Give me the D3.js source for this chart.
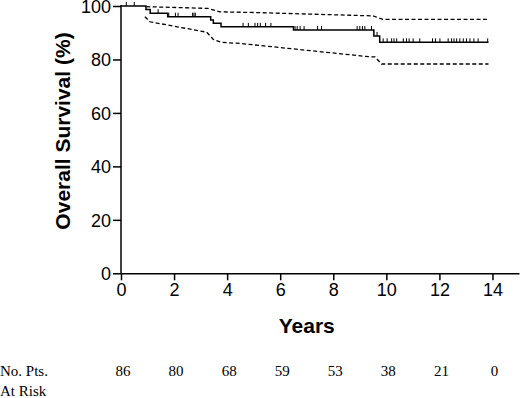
<!DOCTYPE html>
<html>
<head>
<meta charset="utf-8">
<script src="https://cdn.jsdelivr.net/npm/d3@7"></script>
<style>
  body { margin: 0; background: #fff; }
  svg { display: block; }
  .tick text { font-family: "Liberation Sans", Arial, sans-serif; font-size: 18px; fill: #000; }
  .axisTitle { font-family: "Liberation Sans", Arial, sans-serif; font-size: 21px; font-weight: bold; }
  .risk { font-family: "Liberation Serif", "Times New Roman", serif; font-size: 15px; }
</style>
</head>
<body>
<div id="plot"></div>
<script>
var svgWidth = 520;
var svgHeight = 398;

// Kaplan-Meier step points [year, survival %]
var kmSteps = [[0, 100], [0.94, 98.7], [1.1, 97.3], [1.76, 96.0], [3.38, 94.8], [3.48, 93.5],
  [3.77, 92.2], [6.5, 91.0], [9.53, 88.8], [9.75, 86.4]];
var kmEnd = 13.85;

// censor marks [year, survival %]
var censored = [[0.2, 100], [0.5, 100], [1.4, 97.3], [1.8, 96.0], [2.05, 96.0], [2.15, 96.0],
  [2.7, 96.0], [2.75, 96.0], [2.8, 96.0],
  [4.6, 92.2], [4.8, 92.2], [5.05, 92.2], [5.15, 92.2], [5.25, 92.2], [5.45, 92.2], [5.65, 92.2],
  [6.56, 91.0], [6.64, 91.0], [6.75, 91.0], [6.9, 91.0], [7.41, 91.0], [7.56, 91.0],
  [8.9, 91.0], [9.0, 91.0], [9.1, 91.0], [9.19, 91.0], [9.44, 91.0], [9.65, 88.8],
  [9.88, 86.4], [10.03, 86.4], [10.2, 86.4], [10.29, 86.4], [10.39, 86.4], [10.64, 86.4],
  [10.76, 86.4], [10.86, 86.4], [11.01, 86.4], [11.26, 86.4], [11.74, 86.4], [11.85, 86.4],
  [12.02, 86.4], [12.33, 86.4], [12.46, 86.4], [12.55, 86.4], [12.65, 86.4], [12.77, 86.4],
  [12.9, 86.4], [13.02, 86.4], [13.15, 86.4], [13.3, 86.4], [13.46, 86.4], [13.82, 86.4]];

// 95% confidence bands
var upperCI = [[0.95, 99.75], [3.28, 99.1], [3.73, 97.8], [4.86, 97.6], [9.5, 96.3], [9.87, 95.0], [13.85, 95.0]];
var lowerCI = [[0.9, 96.0], [1.09, 94.1], [3.23, 90.2], [3.48, 87.5], [3.79, 86.4], [4.48, 86.0],
  [9.38, 81.0], [9.57, 81.0], [9.82, 78.3], [13.85, 78.3]];

var xTicks = [0, 2, 4, 6, 8, 10, 12, 14];
var yTicks = [0, 20, 40, 60, 80, 100];
var atRisk = [86, 80, 68, 59, 53, 38, 21, 0];

var svg = d3.select("#plot")
  .append("svg")
  .attr("width", svgWidth)
  .attr("height", svgHeight);

var x = d3.scaleLinear().domain([0, 15]).range([121, 519]);
var y = d3.scaleLinear().domain([0, 100]).range([273.3, 6]);

var bottomAxis = d3.axisBottom(x).tickValues(xTicks).tickSize(7).tickPadding(3).tickSizeOuter(0);
var leftAxis = d3.axisLeft(y).tickValues(yTicks).tickSize(8).tickPadding(2).tickSizeOuter(0);

var gx = svg.append("g")
  .attr("transform", `translate(0, ${y(0)})`)
  .call(bottomAxis);
var gy = svg.append("g")
  .attr("transform", `translate(${x(0)}, 0)`)
  .call(leftAxis);

[gx, gy].forEach(function (g) {
  g.selectAll("path, line").attr("stroke", "#000").attr("stroke-width", 1.5);
});
gy.select(".domain").attr("d", `M0,${y(0)}V${y(100) - 1}`);
gy.selectAll(".tick text").attr("dy", "0.36em");

// KM curve
var kmLine = d3.line()
  .x(d => x(d[0]))
  .y(d => y(d[1]))
  .curve(d3.curveStepAfter);

svg.append("path")
  .datum(kmSteps.concat([[kmEnd, kmSteps[kmSteps.length - 1][1]]]))
  .attr("d", kmLine)
  .attr("fill", "none")
  .attr("stroke", "#000")
  .attr("stroke-width", 1.5);

svg.selectAll(".censor")
  .data(censored)
  .enter()
  .append("line")
  .attr("class", "censor")
  .attr("x1", d => x(d[0]))
  .attr("x2", d => x(d[0]))
  .attr("y1", d => y(d[1]))
  .attr("y2", d => y(d[1]) - 4)
  .attr("stroke", "#000")
  .attr("stroke-width", 1);

var ciLine = d3.line()
  .x(d => x(d[0]))
  .y(d => y(d[1]));

[upperCI, lowerCI].forEach(function (band) {
  svg.append("path")
    .datum(band)
    .attr("d", ciLine)
    .attr("fill", "none")
    .attr("stroke", "#000")
    .attr("stroke-width", 1.3)
    .attr("stroke-dasharray", "4,2.5");
});

svg.append("text")
  .attr("class", "axisTitle")
  .attr("transform", `translate(70, 131) rotate(-90)`)
  .attr("text-anchor", "middle")
  .text("Overall Survival (%)");

svg.append("text")
  .attr("class", "axisTitle")
  .attr("x", x(7))
  .attr("y", 333)
  .attr("text-anchor", "middle")
  .text("Years");

svg.append("text").attr("class", "risk").attr("x", 0).attr("y", 376).text("No. Pts.");
svg.append("text").attr("class", "risk").attr("x", 0).attr("y", 396).text("At Risk");

svg.selectAll(".riskNum")
  .data(atRisk)
  .enter()
  .append("text")
  .attr("class", "risk")
  .attr("x", (d, i) => x(xTicks[i]) + 2)
  .attr("y", 376)
  .attr("text-anchor", "middle")
  .text(d => d);
</script>
</body>
</html>
